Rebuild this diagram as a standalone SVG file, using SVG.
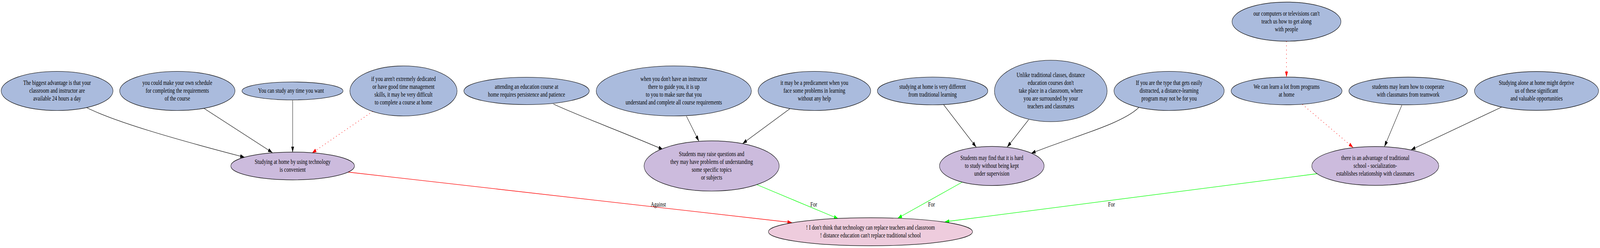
<svg xmlns="http://www.w3.org/2000/svg" width="5522" height="634" viewBox="0 0 5522 634" preserveAspectRatio="none" style="width:100vw;height:100vh;display:block">
<style>
text{font-family:"Liberation Serif","Times New Roman",serif;font-size:17px;fill:#000;text-anchor:middle}
.n ellipse{stroke:#000;stroke-width:1.2}
.top ellipse{fill:#aabbdd}
.mid ellipse{fill:#ccbbdd}
.bot ellipse{fill:#eeccdd}
.e{fill:none;stroke:#000;stroke-width:1.2}
.r{fill:none;stroke:#ff0000;stroke-width:1.3}
.g{fill:none;stroke:#00ff00;stroke-width:1.3}
.d{fill:none;stroke:#ff0000;stroke-width:1.6;stroke-dasharray:2 8.7}
</style>
<defs>
<marker id="ab" viewBox="0 0 15 10" refX="15" refY="5" markerWidth="15" markerHeight="10" markerUnits="userSpaceOnUse" orient="auto"><path d="M0,0L15,5L0,10z" fill="#000"/></marker>
<marker id="ar" viewBox="0 0 15 10" refX="15" refY="5" markerWidth="15" markerHeight="10" markerUnits="userSpaceOnUse" orient="auto"><path d="M0,0L15,5L0,10z" fill="#ff0000"/></marker>
<marker id="ag" viewBox="0 0 15 10" refX="15" refY="5" markerWidth="15" markerHeight="10" markerUnits="userSpaceOnUse" orient="auto"><path d="M0,0L15,5L0,10z" fill="#00ff00"/></marker>
</defs>
<rect width="5522" height="634" fill="#fff"/>
<g id="edges">
<path class="e" d="M298.5,275C400,312 600,355 844,402" marker-end="url(#ab)"/>
<path class="e" d="M704,277L940,390" marker-end="url(#ab)"/>
<path class="e" d="M1010,256.5L1010,389.5" marker-end="url(#ab)"/>
<path class="d" d="M1286,285L1077,391" marker-end="url(#ar)"/>
<path class="e" d="M1910,266C2000,297 2150,338 2288,382" marker-end="url(#ab)"/>
<path class="e" d="M2369,297L2412,361" marker-end="url(#ab)"/>
<path class="e" d="M2726,278L2563,367" marker-end="url(#ab)"/>
<path class="g" d="M2612,472L2893,559" marker-end="url(#ag)"/>
<path class="r" d="M1202,440L2733,569" marker-end="url(#ar)"/>
<path class="e" d="M3257,268L3369,376" marker-end="url(#ab)"/>
<path class="e" d="M3550,306L3476,376" marker-end="url(#ab)"/>
<path class="e" d="M3930,275C3870,318 3700,350 3559,392" marker-end="url(#ab)"/>
<path class="g" d="M3320,466L3098,558" marker-end="url(#ag)"/>
<path class="g" d="M4546,444L3261,567" marker-end="url(#ag)"/>
<path class="d" d="M4440,105.5L4440,197.5" marker-end="url(#ar)"/>
<path class="d" d="M4495,267L4670,377" marker-end="url(#ar)"/>
<path class="e" d="M4838,269L4778,375" marker-end="url(#ab)"/>
<path class="e" d="M5182,274L4870,383" marker-end="url(#ab)"/>
<text x="2272" y="528">Against</text>
<text x="2808.5" y="528">For</text>
<text x="3215" y="528">For</text>
<text x="3836" y="528">For</text>
</g>
<g id="n1" class="n top"><ellipse cx="197" cy="232.5" rx="193" ry="50"/><text x="197" y="217.5">The biggest advantage is that your</text><text x="197" y="237.5">classroom and instructor are</text><text x="197" y="257.5">available 24 hours a day</text></g>
<g id="n2" class="n top"><ellipse cx="612" cy="232.5" rx="199" ry="50"/><text x="612" y="217.5">you could make your own schedule</text><text x="612" y="237.5">for completing the requirements</text><text x="612" y="257.5">of the course</text></g>
<g id="n3" class="n top"><ellipse cx="1009.5" cy="232.5" rx="174.5" ry="23"/><text x="1004.5" y="237.5">You can study any time you want</text></g>
<g id="n4" class="n top"><ellipse cx="1392.5" cy="232.5" rx="185" ry="64"/><text x="1392.5" y="207.5">if you aren't extremely dedicated</text><text x="1392.5" y="227.5">or have good time management</text><text x="1392.5" y="247.5">skills, it may be very difficult</text><text x="1392.5" y="267.5">to complete a course at home</text></g>
<g id="n5" class="n top"><ellipse cx="1817.3" cy="232.5" rx="216.4" ry="35"/><text x="1817.3" y="227.5">attending an education course at</text><text x="1817.3" y="247.5">home requires persistence and patience</text></g>
<g id="n6" class="n top"><ellipse cx="2325.4" cy="232.5" rx="267.8" ry="64"/><text x="2325.4" y="207.5">when you don't have an instructor</text><text x="2325.4" y="227.5">there to guide you, it is up</text><text x="2325.4" y="247.5">to you to make sure that you</text><text x="2325.4" y="267.5">understand and complete all course requirements</text></g>
<g id="n7" class="n top"><ellipse cx="2810.7" cy="232.5" rx="194.3" ry="50"/><text x="2810.7" y="217.5">it may be a predicament when you</text><text x="2810.7" y="237.5">face some problems in learning</text><text x="2810.7" y="257.5">without any help</text></g>
<g id="n8" class="n top"><ellipse cx="3218.6" cy="232.5" rx="190.6" ry="35.5"/><text x="3218.6" y="227.5">studying at home is very different</text><text x="3218.6" y="247.5">from traditional learning</text></g>
<g id="n9" class="n top"><ellipse cx="3626.5" cy="232.5" rx="194.4" ry="78.5"/><text x="3626.5" y="197.5">Unlike traditional classes, distance</text><text x="3626.5" y="217.5">education courses don't</text><text x="3626.5" y="237.5">take place in a classroom, where</text><text x="3626.5" y="257.5">you are surrounded by your</text><text x="3626.5" y="277.5">teachers and classmates</text></g>
<g id="n10" class="n top"><ellipse cx="4034.8" cy="232.5" rx="190.2" ry="50"/><text x="4034.8" y="217.5">If you are the type that gets easily</text><text x="4034.8" y="237.5">distracted, a distance-learning</text><text x="4034.8" y="257.5">program may not be for you</text></g>
<g id="n0" class="n top"><ellipse cx="4440" cy="55.3" rx="188" ry="50"/><text x="4440" y="40.3">our computers or televisions can't</text><text x="4440" y="60.3">teach us how to get along</text><text x="4440" y="80.3">with people</text></g>
<g id="n11" class="n top"><ellipse cx="4440.3" cy="232.5" rx="191.4" ry="35.4"/><text x="4440.3" y="227.5">We can learn a lot from programs</text><text x="4440.3" y="247.5">at home</text></g>
<g id="n12" class="n top"><ellipse cx="4859.8" cy="232.5" rx="204.5" ry="35.4"/><text x="4859.8" y="227.5">students may learn how to cooperate</text><text x="4859.8" y="247.5">with classmates from teamwork</text></g>
<g id="n13" class="n top"><ellipse cx="5302.9" cy="232.5" rx="214.2" ry="49.7"/><text x="5302.9" y="217.5">Studying alone at home might deprive</text><text x="5302.9" y="237.5">us of these significant</text><text x="5302.9" y="257.5">and valuable opportunities</text></g>
<g id="m1" class="n mid"><ellipse cx="1010" cy="424.3" rx="213.5" ry="35.5"/><text x="1010" y="419.3">Studying at home by using technology</text><text x="1010" y="439.3">is convenient</text></g>
<g id="m2" class="n mid"><ellipse cx="2456" cy="424.3" rx="233.3" ry="64.2"/><text x="2456" y="399.3">Students may raise questions and</text><text x="2456" y="419.3">they may have problems of understanding</text><text x="2456" y="439.3">some specific topics</text><text x="2456" y="459.3">or subjects</text></g>
<g id="m3" class="n mid"><ellipse cx="3423" cy="424.3" rx="180.6" ry="50"/><text x="3423" y="409.3">Students may find that it is hard</text><text x="3423" y="429.3">to study without being kept</text><text x="3423" y="449.3">under supervision</text></g>
<g id="m4" class="n mid"><ellipse cx="4746.4" cy="424.3" rx="219.2" ry="49.6"/><text x="4746.4" y="409.3">there is an advantage of traditional</text><text x="4746.4" y="429.3">school - socialization-</text><text x="4746.4" y="449.3">establishes relationship with classmates</text></g>
<g id="b1" class="n bot"><ellipse cx="3004.2" cy="592.5" rx="352.2" ry="35.8"/><text x="3004.2" y="587.5">! I don't think that technology can replace teachers and classroom</text><text x="3004.2" y="607.5">! distance education can't replace traditional school</text></g>
</svg>
